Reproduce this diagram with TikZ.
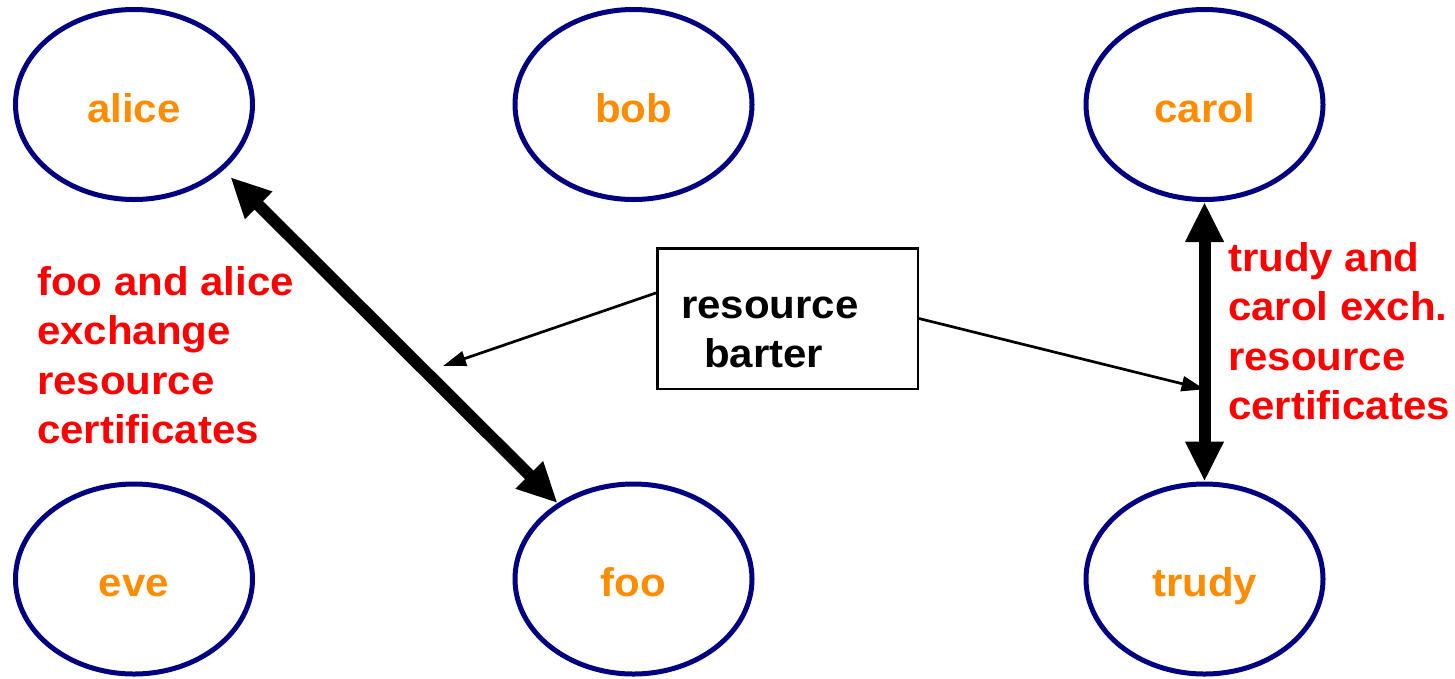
\documentclass[tikz,border=0pt]{standalone}
\usepackage{fontspec}
\setmainfont{Liberation Sans}[FakeStretch=1.05]
\usetikzlibrary{shapes.geometric,arrows.meta}
\definecolor{peernavy}{HTML}{000080}
\definecolor{peerorange}{HTML}{FF8C00}
\definecolor{notered}{HTML}{FF0000}
\begin{document}
\begin{tikzpicture}[x=1pt,y=-1pt,
  bigfont/.style={font=\fontsize{40}{49.5}\selectfont\bfseries},
  peer/.style={ellipse, draw=peernavy, line width=5pt, inner sep=0pt,
    minimum width=237pt, minimum height=190pt, bigfont, text=peerorange,
    text height=35pt, text depth=0pt},
  barterbox/.style={rectangle, draw=black, line width=2.5pt, inner sep=0pt,
    minimum width=260.5pt, minimum height=140.5pt},
  note/.style={bigfont, text=notered, align=left, inner sep=0pt, anchor=north west},
  exchange/.style={line width=12pt,
    {Triangle[length=40pt,width=36pt]}-{Triangle[length=40pt,width=36pt]}},
  pointer/.style={line width=2.7pt, -{Triangle[length=23pt,width=15pt]}}]
\useasboundingbox (0,0) rectangle (1455,678);

% peers
\node[peer] (alice) at (134,104.5) {alice};
\node[peer] (bob)   at (633.5,104.5) {bob};
\node[peer] (carol) at (1204.5,104.5) {carol};
\node[peer] (eve)   at (134,579) {eve};
\node[peer] (foo)   at (633.5,579) {foo};
\node[peer] (trudy) at (1204.5,579) {trudy};

% barter box
\node[barterbox] (box) at (787.5,318.5) {};
\node[bigfont, align=left, inner sep=0pt, anchor=north west] (boxtext) at (681,296.5)
  {resource\\\hspace*{23pt}barter};

% certificate exchanges
\draw[exchange] ([shift={(8,6)}]alice.-37) -- (foo.135);
\draw[exchange] (carol.south) -- (trudy.north);

% pointers from the barter box
\path (carol.south) -- (trudy.north) coordinate[pos=0.67] (cmid);
\coordinate (amid) at (443,366);
\draw[pointer] (box.169) -- (amid);
\draw[pointer] (box.east) -- (cmid);

% explanations
\node[note] (leftnote) at (37,266) {foo and alice\\exchange\\resource\\certificates};
\node[note] (rightnote) at (1228,242) {trudy and\\carol exch.\\resource\\certificates};
\end{tikzpicture}
\end{document}
